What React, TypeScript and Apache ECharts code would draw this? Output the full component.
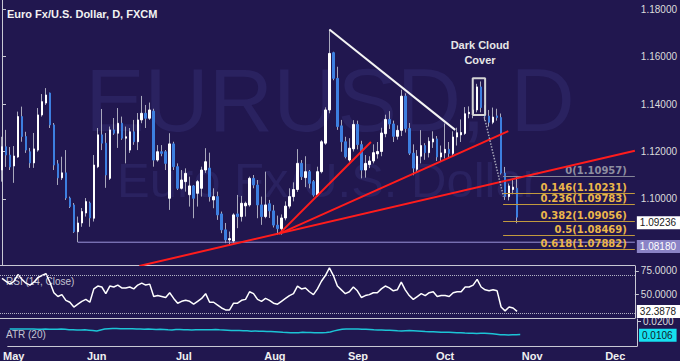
import React, { useEffect, useRef } from 'react';
import * as echarts from 'echarts';

// ---------- data ----------
const START_DATE = '2015-04-30';
const END_DATE = '2015-12-08';
const MONTH_NAMES = ['Jan', 'Feb', 'Mar', 'Apr', 'May', 'Jun', 'Jul', 'Aug', 'Sep', 'Oct', 'Nov', 'Dec'];

// daily candles: [open, close, low, high]
const OHLC: number[][] = [
  [1.1122, 1.1220, 1.1073, 1.1262], [1.1220, 1.1185, 1.1135, 1.1291], [1.1185, 1.1135, 1.1122, 1.1219],
  [1.1139, 1.1181, 1.1068, 1.1223], [1.1177, 1.1347, 1.1173, 1.1368], [1.1347, 1.1263, 1.1241, 1.1389],
  [1.1263, 1.1206, 1.1194, 1.1283], [1.1199, 1.1152, 1.1131, 1.1215], [1.1152, 1.1211, 1.1131, 1.1278],
  [1.1206, 1.1354, 1.1199, 1.1383], [1.1354, 1.1410, 1.1347, 1.1442], [1.1404, 1.1438, 1.1396, 1.1467],
  [1.1446, 1.1312, 1.1299, 1.1448], [1.1312, 1.1143, 1.1122, 1.1320], [1.1148, 1.1089, 1.1059, 1.1164],
  [1.1089, 1.1110, 1.1080, 1.1178], [1.1110, 1.1004, 1.0996, 1.1206], [1.1004, 1.0968, 1.0962, 1.1010],
  [1.0975, 1.0862, 1.0857, 1.0983], [1.0862, 1.0899, 1.0818, 1.0926], [1.0899, 1.0947, 1.0883, 1.0962],
  [1.0941, 1.0989, 1.0926, 1.1004], [1.0983, 1.0920, 1.0883, 1.0989], [1.0919, 1.1143, 1.0905, 1.1185],
  [1.1136, 1.1270, 1.1130, 1.1299], [1.1270, 1.1235, 1.1206, 1.1379], [1.1235, 1.1101, 1.1047, 1.1278],
  [1.1087, 1.1291, 1.1080, 1.1305], [1.1291, 1.1277, 1.1270, 1.1341], [1.1277, 1.1319, 1.1215, 1.1383],
  [1.1319, 1.1256, 1.1249, 1.1347], [1.1256, 1.1262, 1.1150, 1.1305], [1.1206, 1.1283, 1.1194, 1.1299],
  [1.1283, 1.1241, 1.1228, 1.1333], [1.1241, 1.1333, 1.1206, 1.1362], [1.1333, 1.1361, 1.1319, 1.1434],
  [1.1361, 1.1340, 1.1299, 1.1396], [1.1340, 1.1375, 1.1333, 1.1406], [1.1370, 1.1164, 1.1136, 1.1380],
  [1.1164, 1.1199, 1.1157, 1.1227], [1.1199, 1.1192, 1.1180, 1.1227], [1.1199, 1.1150, 1.1122, 1.1206],
  [1.1003, 1.1232, 1.0954, 1.1277], [1.1232, 1.1136, 1.1122, 1.1241], [1.1136, 1.1045, 1.1038, 1.1150],
  [1.1045, 1.1080, 1.1040, 1.1122], [1.1073, 1.1108, 1.1031, 1.1129], [1.1018, 1.1055, 1.0968, 1.1094],
  [1.1055, 1.1003, 1.0919, 1.1059], [1.1024, 1.1073, 1.0968, 1.1080], [1.1045, 1.1122, 1.1010, 1.1136],
  [1.1122, 1.1157, 1.1110, 1.1214], [1.1130, 1.1010, 1.0989, 1.1195], [1.0996, 1.1010, 1.0961, 1.1045],
  [1.1010, 1.0933, 1.0912, 1.1031], [1.0937, 1.0870, 1.0856, 1.0947], [1.0870, 1.0828, 1.0814, 1.0899],
  [1.0828, 1.0833, 1.0807, 1.0863], [1.0823, 1.0933, 1.0815, 1.0940], [1.0937, 1.0926, 1.0877, 1.1017],
  [1.0926, 1.0982, 1.0905, 1.1013], [1.0971, 1.0982, 1.0926, 1.0989], [1.0975, 1.1087, 1.0968, 1.1094],
  [1.1087, 1.1059, 1.1045, 1.1101], [1.1059, 1.0975, 1.0919, 1.1080], [1.0975, 1.0926, 1.0891, 1.1010],
  [1.0926, 1.0975, 1.0919, 1.1115], [1.0980, 1.0950, 1.0920, 1.0996], [1.0950, 1.0890, 1.0880, 1.0975],
  [1.0890, 1.0875, 1.0850, 1.0930], [1.0875, 1.0920, 1.0850, 1.0935], [1.0920, 1.0970, 1.0910, 1.0990],
  [1.0970, 1.1010, 1.0960, 1.1045], [1.1010, 1.1040, 1.0990, 1.1070], [1.1040, 1.1150, 1.1030, 1.1210],
  [1.1150, 1.1094, 1.1080, 1.1164], [1.1090, 1.1115, 1.1050, 1.1180], [1.1115, 1.1066, 1.1045, 1.1122],
  [1.1073, 1.1017, 1.1010, 1.1080], [1.1017, 1.1115, 1.1010, 1.1136], [1.1115, 1.1241, 1.1108, 1.1248],
  [1.1235, 1.1375, 1.1228, 1.1386], [1.1375, 1.1613, 1.1361, 1.1714], [1.1616, 1.1508, 1.1500, 1.1620],
  [1.1508, 1.1305, 1.1291, 1.1557], [1.1308, 1.1241, 1.1199, 1.1333], [1.1241, 1.1178, 1.1171, 1.1262],
  [1.1164, 1.1214, 1.1157, 1.1256], [1.1211, 1.1314, 1.1200, 1.1332], [1.1314, 1.1229, 1.1209, 1.1330],
  [1.1229, 1.1122, 1.1087, 1.1245], [1.1122, 1.1150, 1.1090, 1.1185], [1.1145, 1.1160, 1.1130, 1.1180],
  [1.1160, 1.1195, 1.1150, 1.1230], [1.1190, 1.1200, 1.1170, 1.1240], [1.1200, 1.1278, 1.1180, 1.1300],
  [1.1275, 1.1335, 1.1260, 1.1355], [1.1335, 1.1316, 1.1295, 1.1370], [1.1316, 1.1264, 1.1240, 1.1330],
  [1.1264, 1.1289, 1.1250, 1.1310], [1.1289, 1.1433, 1.1265, 1.1460], [1.1433, 1.1297, 1.1280, 1.1445],
  [1.1297, 1.1193, 1.1185, 1.1320], [1.1193, 1.1130, 1.1100, 1.1230], [1.1125, 1.1180, 1.1110, 1.1206],
  [1.1180, 1.1225, 1.1150, 1.1290], [1.1225, 1.1195, 1.1165, 1.1235], [1.1195, 1.1243, 1.1175, 1.1260],
  [1.1240, 1.1253, 1.1215, 1.1285], [1.1253, 1.1177, 1.1160, 1.1265], [1.1177, 1.1194, 1.1160, 1.1225],
  [1.1194, 1.1209, 1.1170, 1.1318], [1.1209, 1.1192, 1.1170, 1.1240], [1.1192, 1.1261, 1.1180, 1.1285],
  [1.1261, 1.1279, 1.1225, 1.1300], [1.1270, 1.1280, 1.1240, 1.1335], [1.1276, 1.1359, 1.1270, 1.1387],
  [1.1359, 1.1365, 1.1340, 1.1390], [1.1360, 1.1375, 1.1340, 1.1390], [1.1375, 1.1472, 1.1365, 1.1485],
  [1.1472, 1.1385, 1.1365, 1.1495], [1.1380, 1.1349, 1.1330, 1.1395], [1.1349, 1.1323, 1.1305, 1.1375],
  [1.1323, 1.1345, 1.1315, 1.1385], [1.1350, 1.1343, 1.1330, 1.1380], [1.1343, 1.1109, 1.1103, 1.1360],
  [1.1109, 1.1010, 1.0996, 1.1135], [1.1010, 1.1055, 1.0994, 1.1065], [1.1040, 1.1050, 1.1020, 1.1085],
  [1.1045, 1.09236, 1.0898, 1.1095],
];

const RSI = [
  67, 64, 61, 64, 71, 66, 62, 60, 63, 68, 70, 72, 63, 52, 48, 50, 44, 42, 37, 40,
  43, 45, 42, 56, 59, 58, 51, 59, 58, 60, 57, 57, 58, 56, 60, 62, 60, 61, 48, 49,
  48, 47, 52, 46, 41, 43, 44, 43, 40, 43, 46, 51, 42, 42, 39, 36, 34, 34, 41, 41,
  44, 45, 53, 51, 45, 43, 46, 44, 41, 40, 43, 46, 49, 51, 59, 56, 57, 53, 50, 56,
  64, 70, 78, 70, 59, 55, 51, 53, 58, 54, 47, 49, 50, 52, 52, 56, 59, 57, 54, 55,
  63, 55, 49, 45, 48, 51, 49, 52, 53, 48, 49, 49, 48, 52, 53, 53, 58, 58, 60, 66,
  58, 55, 54, 55, 54, 37, 33, 37, 36, 32.3878,
];

const ATR = [
  0.0146, 0.0147, 0.0146, 0.0146, 0.0147, 0.0147, 0.0146, 0.0145, 0.0145, 0.0146, 0.0145,
  0.0144, 0.0145, 0.0146, 0.0144, 0.0142, 0.0142, 0.0140, 0.0140, 0.0141, 0.0138, 0.0135,
  0.0132, 0.0140, 0.0146, 0.0149, 0.0150, 0.0150, 0.0148, 0.0149, 0.0148, 0.0148, 0.0146,
  0.0146, 0.0145, 0.0146, 0.0145, 0.0143, 0.0144, 0.0143, 0.0141, 0.0140, 0.0143, 0.0143,
  0.0142, 0.0141, 0.0140, 0.0141, 0.0142, 0.0141, 0.0141, 0.0142, 0.0143, 0.0141, 0.0140,
  0.0138, 0.0136, 0.0135, 0.0135, 0.0134, 0.0133, 0.0131, 0.0132, 0.0131, 0.0130, 0.0129,
  0.0128, 0.0126, 0.0124, 0.0122, 0.0121, 0.0120, 0.0120, 0.0119, 0.0122, 0.0121, 0.0121,
  0.0120, 0.0119, 0.0120, 0.0121, 0.0125, 0.0133, 0.0140, 0.0145, 0.0147, 0.0147, 0.0146,
  0.0146, 0.0145, 0.0145, 0.0143, 0.0141, 0.0140, 0.0139, 0.0138, 0.0137, 0.0135, 0.0133,
  0.0132, 0.0134, 0.0135, 0.0134, 0.0132, 0.0130, 0.0128, 0.0127, 0.0126, 0.0125, 0.0123,
  0.0122, 0.0122, 0.0121, 0.0120, 0.0119, 0.0117, 0.0116, 0.0115, 0.0114, 0.0115, 0.0115,
  0.0113, 0.0111, 0.0108, 0.0105, 0.0104, 0.0103, 0.0104, 0.0105, 0.0106,
];

const PRICE_TICKS = [1.1, 1.12, 1.14, 1.16, 1.18];
const RSI_TICKS = [50, 75];
const ATR_TICKS = [0.02];
const RSI_BANDS = [70, 30];

const FIB_RATIOS = ['0', '0.146', '0.236', '0.382', '0.5', '0.618'];
const FIB_LEVELS = [1.10957, 1.10231, 1.09783, 1.09056, 1.08469, 1.07882];
const FIB_START = 125.5;

const SUPPORT_LEVEL = 1.0818;
const SUPPORT_START = 19;
const LAST_PRICE = 1.09236;
const LAST_RSI = 32.3878;
const LAST_ATR = 0.0106;

// trend lines as [candle index, price]
const RED_LINES = [
  [[34.4, 1.0718], [158.5, 1.1203]],
  [[69.4, 1.0853], [126.8, 1.1286]],
  [[69.4, 1.0853], [92.4, 1.124]],
];
const WHITE_LINE = [[82, 1.1714], [113.5, 1.1291]];
const DOTTED_LINE = [[120.8, 1.1345], [125.6, 1.101]];
const BOX_X = [117.9, 121.0];
const BOX_Y = [1.1354, 1.1508];

// ---------- helpers ----------
function tradingDays(start: string, end: string): string[] {
  const out: string[] = [];
  const d = new Date(start + 'T00:00:00Z');
  const e = new Date(end + 'T00:00:00Z');
  while (d <= e) {
    const wd = d.getUTCDay();
    if (wd !== 0 && wd !== 6) out.push(d.toISOString().slice(0, 10));
    d.setUTCDate(d.getUTCDate() + 1);
  }
  return out;
}

const CATEGORIES = tradingDays(START_DATE, END_DATE);
const FONT = 'Liberation Sans, Arial, sans-serif';
const FIB_FONT = 'DejaVu Sans, Verdana, sans-serif';
const BG = '#21174f';
const AXIS_COLOR = '#c8c8d4';
const TEXT_COLOR = '#dcdcdc';

function buildOption(): any {
  const N = CATEGORIES.length;
  const bodies = OHLC.map(([o, c]) => [o, c, Math.min(o, c), Math.max(o, c)]);

  const catAxis = (gi: number) => ({
    type: 'category', gridIndex: gi, data: CATEGORIES, boundaryGap: true,
    axisLine: { show: true, lineStyle: { color: AXIS_COLOR, width: 1 } },
    axisTick: { show: false }, axisLabel: { show: false }, splitLine: { show: false },
  });

  const valAxis = (gi: number, min: number, max: number, ticks: number[], digits: number) => ({
    type: 'value', gridIndex: gi, position: 'right', min, max,
    axisLine: { show: true, lineStyle: { color: AXIS_COLOR, width: 1 } },
    axisTick: { show: true, length: 4, inside: false, lineStyle: { color: AXIS_COLOR }, customValues: ticks },
    axisLabel: {
      show: true, color: TEXT_COLOR, fontSize: 10, fontFamily: FONT, margin: 6,
      customValues: ticks, formatter: (v: number) => v.toFixed(digits),
    },
    splitLine: { show: false },
  });

  const seg = (name: string, pts: number[][], color: string, width: number, type: string = 'solid', z = 5) => ({
    type: 'line', name, xAxisIndex: 1, yAxisIndex: 0, data: pts, showSymbol: false, symbol: 'none',
    silent: true, z, lineStyle: { color, width, type }, animation: false,
  });

  const sideLabel = (value: number, text: string, bg: string, fg: string) => ({
    yAxis: value,
    lineStyle: { color: 'rgba(0,0,0,0)', width: 1 },
    label: {
      show: true, position: 'end', formatter: text, backgroundColor: bg, color: fg,
      fontSize: 10, fontFamily: FONT, padding: [2, 4, 1, 3], distance: 2,
    },
  });

  const fibLines = FIB_LEVELS.map((lvl, i) => {
    const isZero = i === 0;
    const lineColor = isZero ? '#858596' : '#c29a3e';
    const textColor = isZero ? '#8e8ea0' : '#ebb64a';
    return [
      {
        coord: [FIB_START, lvl],
        lineStyle: { color: lineColor, width: 1, type: 'solid' },
        label: {
          show: true, position: 'insideEndTop', formatter: `${FIB_RATIOS[i]}(${lvl.toFixed(5)})`,
          color: textColor, fontSize: 10, fontWeight: 'bold', fontFamily: FIB_FONT, distance: [8, 1],
        },
      },
      { coord: [N - 0.5, lvl] },
    ];
  });

  const box = [
    [BOX_X[0], BOX_Y[0]], [BOX_X[1], BOX_Y[0]], [BOX_X[1], BOX_Y[1]], [BOX_X[0], BOX_Y[1]], [BOX_X[0], BOX_Y[0]],
  ];

  return {
    animation: false,
    backgroundColor: BG,
    grid: [
      { left: 0, top: 0, width: 637, height: 265 },
      { left: 0, top: 266, width: 637, height: 52 },
      { left: 0, top: 319, width: 637, height: 27 },
    ],
    xAxis: [
      catAxis(0),
      { type: 'value', gridIndex: 0, min: -0.5, max: N - 0.5, show: false },
      catAxis(1),
      {
        ...catAxis(2),
        axisLabel: {
          show: true,
          interval: (i: number, v: string) => i > 0 && v.slice(5, 7) !== CATEGORIES[i - 1].slice(5, 7),
          formatter: (v: string) => MONTH_NAMES[parseInt(v.slice(5, 7), 10) - 1],
          color: '#f0f0f0', fontWeight: 'bold', fontSize: 11, fontFamily: FONT, margin: 4,
        },
      },
    ],
    yAxis: [
      valAxis(0, 1.0722, 1.1838, PRICE_TICKS, 5),
      valAxis(1, 25.5, 80, RSI_TICKS, 4),
      valAxis(2, 0.0022, 0.022, ATR_TICKS, 4),
    ],
    graphic: [
      {
        type: 'text', x: 330, y: 100, z: 0, silent: true,
        style: { text: 'EURUSD, D', fill: '#2a2260', fontSize: 89, fontFamily: FONT, align: 'center', verticalAlign: 'middle' },
      },
      {
        type: 'text', x: 328, y: 180, z: 0, silent: true,
        style: { text: 'Euro Fx/U.S. Dollar', fill: '#2a2260', fontSize: 49, fontFamily: FONT, align: 'center', verticalAlign: 'middle' },
      },
      {
        type: 'text', x: 7, y: 14, z: 10, silent: true,
        style: { text: 'Euro Fx/U.S. Dollar, D, FXCM', fill: '#f2f2f2', fontSize: 11, fontWeight: 'bold', fontFamily: FONT, align: 'left', verticalAlign: 'middle' },
      },
      {
        type: 'text', x: 480, y: 52, z: 10, silent: true,
        style: { text: 'Dark Cloud\nCover', fill: '#e6e6e6', fontSize: 11, fontWeight: 'bold', fontFamily: FONT, align: 'center', verticalAlign: 'middle', lineHeight: 15 },
      },
      {
        type: 'text', x: 6, y: 281, z: 0, silent: true,
        style: { text: 'RSI (14, Close)', fill: '#c4c4d2', fontSize: 10, fontFamily: FONT, align: 'left', verticalAlign: 'middle' },
      },
      {
        type: 'text', x: 6, y: 334, z: 0, silent: true,
        style: { text: 'ATR (20)', fill: '#c4c4d2', fontSize: 10, fontFamily: FONT, align: 'left', verticalAlign: 'middle' },
      },
    ],
    series: [
      {
        type: 'candlestick', name: 'wicks', xAxisIndex: 0, yAxisIndex: 0, data: OHLC, barWidth: 0.6, z: 2, silent: true,
        itemStyle: { color: '#a9a9bd', color0: '#a9a9bd', borderColor: '#a9a9bd', borderColor0: '#a9a9bd', borderWidth: 1 },
      },
      {
        type: 'candlestick', name: 'EURUSD', xAxisIndex: 0, yAxisIndex: 0, data: bodies, barWidth: 2, z: 3, silent: true,
        itemStyle: { color: '#ffffff', color0: '#3d7fe0', borderColor: '#ffffff', borderColor0: '#3d7fe0', borderWidth: 1 },
        markLine: {
          silent: true, symbol: ['none', 'none'], animation: false,
          data: [sideLabel(LAST_PRICE, LAST_PRICE.toFixed(5), '#ffffff', '#1a1a1a')],
        },
      },
      {
        ...seg('support', [[SUPPORT_START, SUPPORT_LEVEL], [N - 0.5, SUPPORT_LEVEL]], '#9c95da', 1, 'solid', 4),
        markLine: {
          silent: true, symbol: ['none', 'none'], animation: false,
          data: [sideLabel(SUPPORT_LEVEL, SUPPORT_LEVEL.toFixed(5), '#8a83c6', '#ffffff'), ...fibLines],
        },
      },
      ...RED_LINES.map((pts, i) => seg('red' + i, pts, '#ff1c1c', 2)),
      seg('white', WHITE_LINE, '#f4f4f4', 2),
      seg('dotted', DOTTED_LINE, '#a8a8ba', 1.5, 'dotted'),
      seg('box', box, '#d4d4d4', 2, 'solid', 6),
      {
        type: 'line', name: 'RSI', xAxisIndex: 2, yAxisIndex: 1, data: RSI, showSymbol: false, symbol: 'none', z: 3, silent: true,
        lineStyle: { color: '#ffffff', width: 1.5 },
        markLine: {
          silent: true, symbol: ['none', 'none'], animation: false,
          data: [
            ...RSI_BANDS.map((v) => ({ yAxis: v, lineStyle: { color: '#b4b4c6', width: 1, type: 'dotted' }, label: { show: false } })),
            sideLabel(LAST_RSI, LAST_RSI.toFixed(4), '#ffffff', '#1a1a1a'),
          ],
        },
      },
      {
        type: 'line', name: 'ATR', xAxisIndex: 3, yAxisIndex: 2, data: ATR, showSymbol: false, symbol: 'none', z: 3, silent: true,
        lineStyle: { color: '#1cc4d6', width: 1.5 },
        markLine: {
          silent: true, symbol: ['none', 'none'], animation: false,
          data: [sideLabel(LAST_ATR, LAST_ATR.toFixed(4), '#16e0f0', '#10202a')],
        },
      },
    ],
  };
}

export default function App() {
  const ref = useRef<HTMLDivElement>(null);
  useEffect(() => {
    if (!ref.current) return;
    const chart = echarts.init(ref.current, null, { renderer: 'svg' });
    chart.setOption(buildOption());
    return () => chart.dispose();
  }, []);
  return <div ref={ref} style={{ position: 'fixed', left: 0, top: 0, width: 680, height: 361 }} />;
}
